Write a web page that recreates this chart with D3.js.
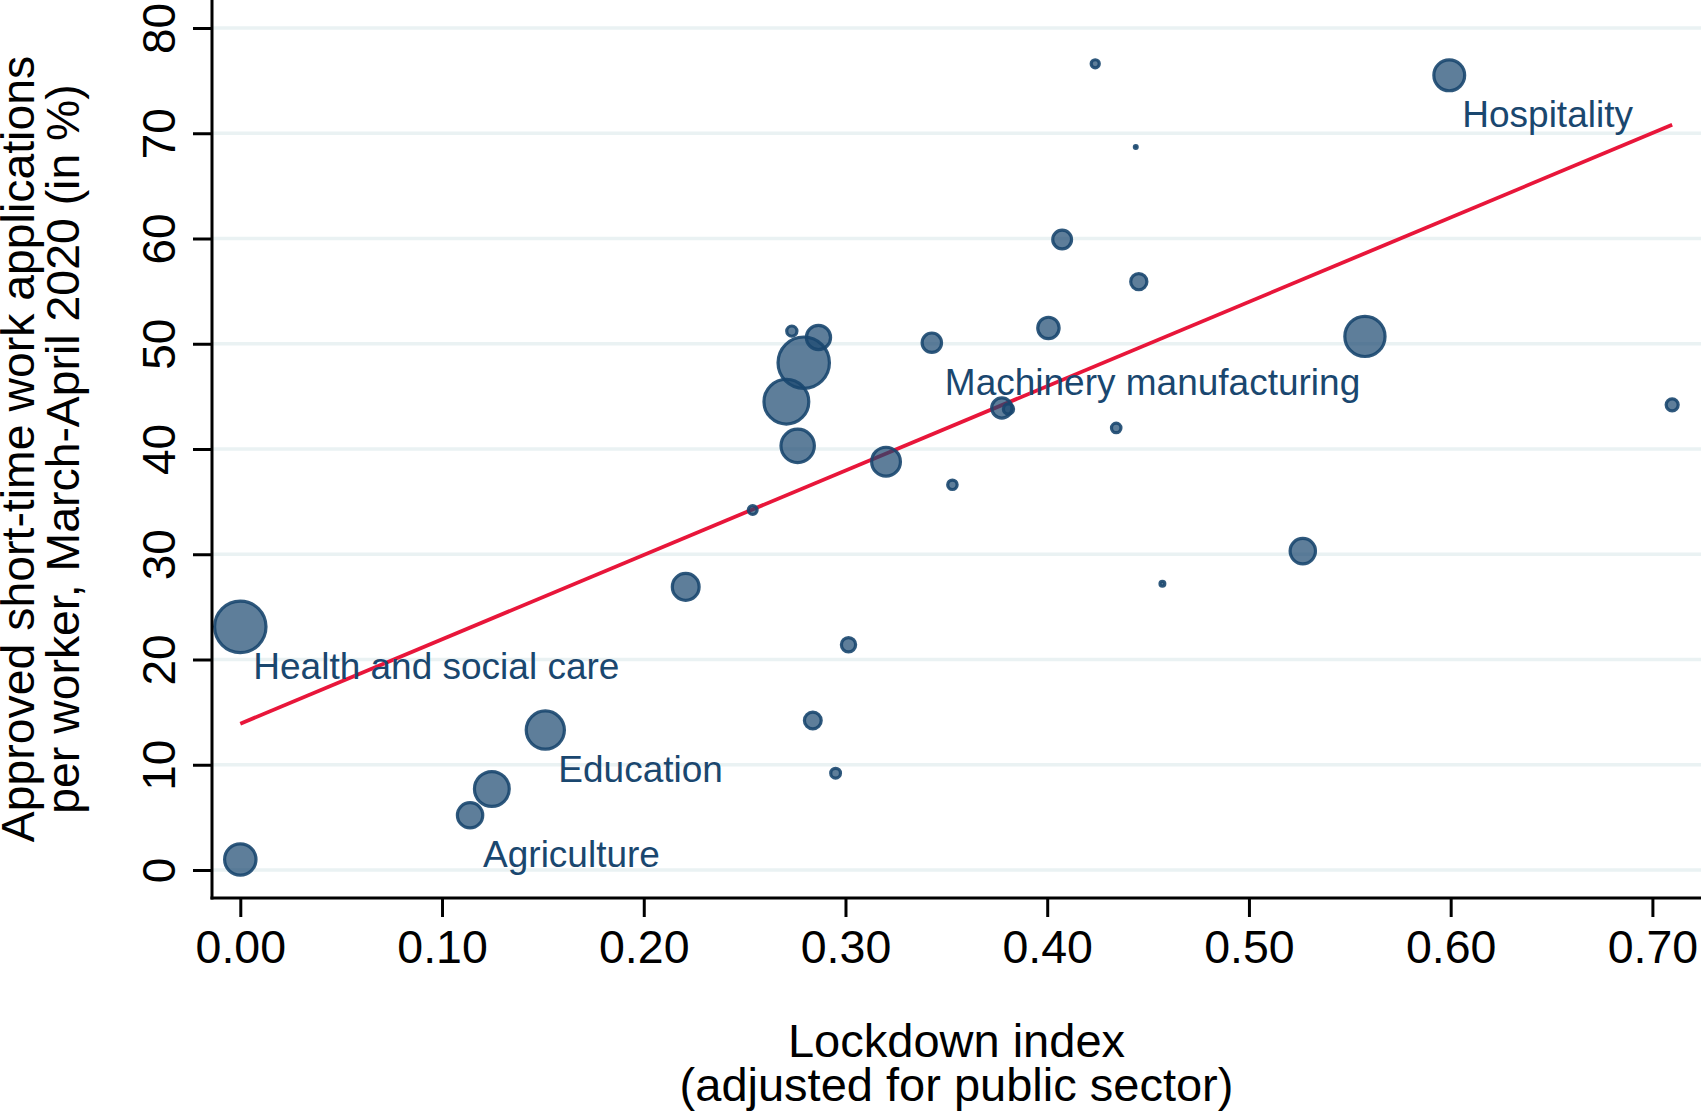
<!DOCTYPE html>
<html>
<head>
<meta charset="utf-8">
<style>
  body { margin: 0; background: #fff; }
  svg { display: block; font-family: "Liberation Sans", Arial, Helvetica, sans-serif; }
</style>
<title>Lockdown index vs short-time work</title>
</head>
<body>
<script src="https://cdn.jsdelivr.net/npm/d3@7"></script>
<script>

// data ///////////////////////////////////////////////////////////////////

// lockdown index (adjusted for public sector), one value per sector
var lockdown = [0.000, 0.000, 0.1139, 0.1247, 0.1512, 0.2208, 0.254, 0.2734, 0.2866, 0.2793,
                0.2707, 0.2763, 0.2838, 0.2951, 0.3015, 0.3201, 0.3428, 0.353, 0.3775, 0.3808,
                0.4006, 0.4074, 0.4238, 0.4342, 0.4439, 0.4454, 0.4571, 0.5267, 0.5575, 0.5993,
                0.7098];
// approved short-time work applications per worker (in %)
var applications = [23.1, 1.0, 5.2, 7.7, 13.3, 26.9, 34.2, 51.2, 50.6, 48.2,
                    44.5, 40.3, 14.2, 9.2, 21.4, 38.8, 50.1, 36.6, 43.9, 43.8,
                    51.5, 59.9, 76.6, 42.0, 68.7, 55.9, 27.2, 30.3, 50.7, 75.5,
                    44.2];
// marker weight (employment, arbitrary units)
var weight = [745, 299, 204, 361, 428, 225, 36, 45, 188, 745,
              576, 335, 100, 42, 76, 256, 128, 40, 137, 45,
              151, 121, 32, 40, 9, 94, 16, 204, 471, 289,
              58];
var labels = ["Health and social care", "", "Agriculture", "", "Education", "", "", "", "", "",
              "", "", "", "", "", "", "Machinery manufacturing", "", "", "",
              "", "", "", "", "", "", "", "", "", "Hospitality",
              ""];

// fitted line, read at both ends
var fitX = [0.000, 0.7098];
var fitY = [13.9, 70.8];

var xTicks = [0, 0.1, 0.2, 0.3, 0.4, 0.5, 0.6, 0.7];
var yTicks = [0, 10, 20, 30, 40, 50, 60, 70, 80];

var xTitle = "Lockdown index";
var xTitle2 = "(adjusted for public sector)";
var yTitle = "Approved short-time work applications";
var yTitle2 = "per worker, March-April 2020 (in %)";

// layout /////////////////////////////////////////////////////////////////

var W = 1701, H = 1112;
var plot = {left: 212, right: 1701, top: 0, bottom: 898};

var navy = "#1a476f";

var svg = d3.select("body").append("svg")
    .attr("width", W)
    .attr("height", H);

var x = d3.scaleLinear().domain([0, 0.7]).range([240.3, 1652.4]);
var y = d3.scaleLinear().domain([0, 80]).range([870, 28]);
var r = d3.scaleSqrt().domain([0, d3.max(weight)]).range([0, 27.3]);

// grid
svg.append("g")
  .selectAll("line")
  .data(yTicks)
  .join("line")
    .attr("x1", plot.left)
    .attr("x2", plot.right)
    .attr("y1", d => y(d))
    .attr("y2", d => y(d))
    .attr("stroke", "#eaf2f3")
    .attr("stroke-width", 3.5);

// fit line
svg.append("path")
    .attr("d", d3.line().x(d => x(d[0])).y(d => y(d[1]))(d3.zip(fitX, fitY)))
    .attr("stroke", "#e8163a")
    .attr("stroke-width", 3.8)
    .attr("fill", "none");

// markers
var pts = d3.range(lockdown.length);

svg.append("g")
  .selectAll("circle")
  .data(pts)
  .join("circle")
    .attr("cx", i => x(lockdown[i]))
    .attr("cy", i => y(applications[i]))
    .attr("r", i => Math.max(r(weight[i]) - 1.6, 1))
    .attr("fill", navy)
    .attr("fill-opacity", 0.7)
    .attr("stroke", navy)
    .attr("stroke-opacity", 0.9)
    .attr("stroke-width", 3.2);

// marker labels (clock position 4)
svg.append("g")
  .selectAll("text")
  .data(pts.filter(i => labels[i]))
  .join("text")
    .attr("x", i => x(lockdown[i]) + 13)
    .attr("y", i => y(applications[i]) + 52)
    .attr("fill", navy)
    .attr("font-size", 37)
    .text(i => labels[i]);

// axes
var xAxis = svg.append("g")
    .attr("transform", `translate(0,${plot.bottom})`)
    .call(d3.axisBottom(x).tickValues(xTicks).tickFormat(d3.format(".2f")).tickSize(19));
xAxis.select(".domain").remove();
xAxis.selectAll(".tick line").attr("stroke", "#000").attr("stroke-width", 3);
xAxis.selectAll(".tick text")
    .attr("y", 65)
    .attr("dy", 0)
    .attr("font-size", 46.5)
    .attr("font-family", null)
    .attr("fill", "#000");

var yAxis = svg.append("g")
    .attr("transform", `translate(${plot.left},0)`)
    .call(d3.axisLeft(y).tickValues(yTicks).tickSize(19));
yAxis.select(".domain").remove();
yAxis.selectAll(".tick line").attr("stroke", "#000").attr("stroke-width", 3);
yAxis.selectAll(".tick text")
    .attr("x", 0)
    .attr("y", -37)
    .attr("dy", 0)
    .attr("transform", "rotate(-90)")
    .attr("text-anchor", "middle")
    .attr("font-size", 46)
    .attr("font-family", null)
    .attr("fill", "#000");

svg.append("line")
    .attr("x1", plot.left).attr("x2", plot.left)
    .attr("y1", plot.top).attr("y2", plot.bottom + 1.5)
    .attr("stroke", "#000").attr("stroke-width", 3);
svg.append("line")
    .attr("x1", plot.left - 1.5).attr("x2", plot.right)
    .attr("y1", plot.bottom).attr("y2", plot.bottom)
    .attr("stroke", "#000").attr("stroke-width", 3);

// titles
var xc = (plot.left + plot.right) / 2;
svg.append("text")
    .attr("x", xc).attr("y", 1057)
    .attr("text-anchor", "middle")
    .attr("font-size", 47)
    .text(xTitle);
svg.append("text")
    .attr("x", xc).attr("y", 1101)
    .attr("text-anchor", "middle")
    .attr("font-size", 47)
    .text(xTitle2);

var yc = (y(0) + y(80)) / 2;
svg.append("text")
    .attr("transform", `translate(34,${yc}) rotate(-90)`)
    .attr("text-anchor", "middle")
    .attr("font-size", 46.4)
    .text(yTitle);
svg.append("text")
    .attr("transform", `translate(79,${yc}) rotate(-90)`)
    .attr("text-anchor", "middle")
    .attr("font-size", 46.4)
    .text(yTitle2);

</script>
</body>
</html>
